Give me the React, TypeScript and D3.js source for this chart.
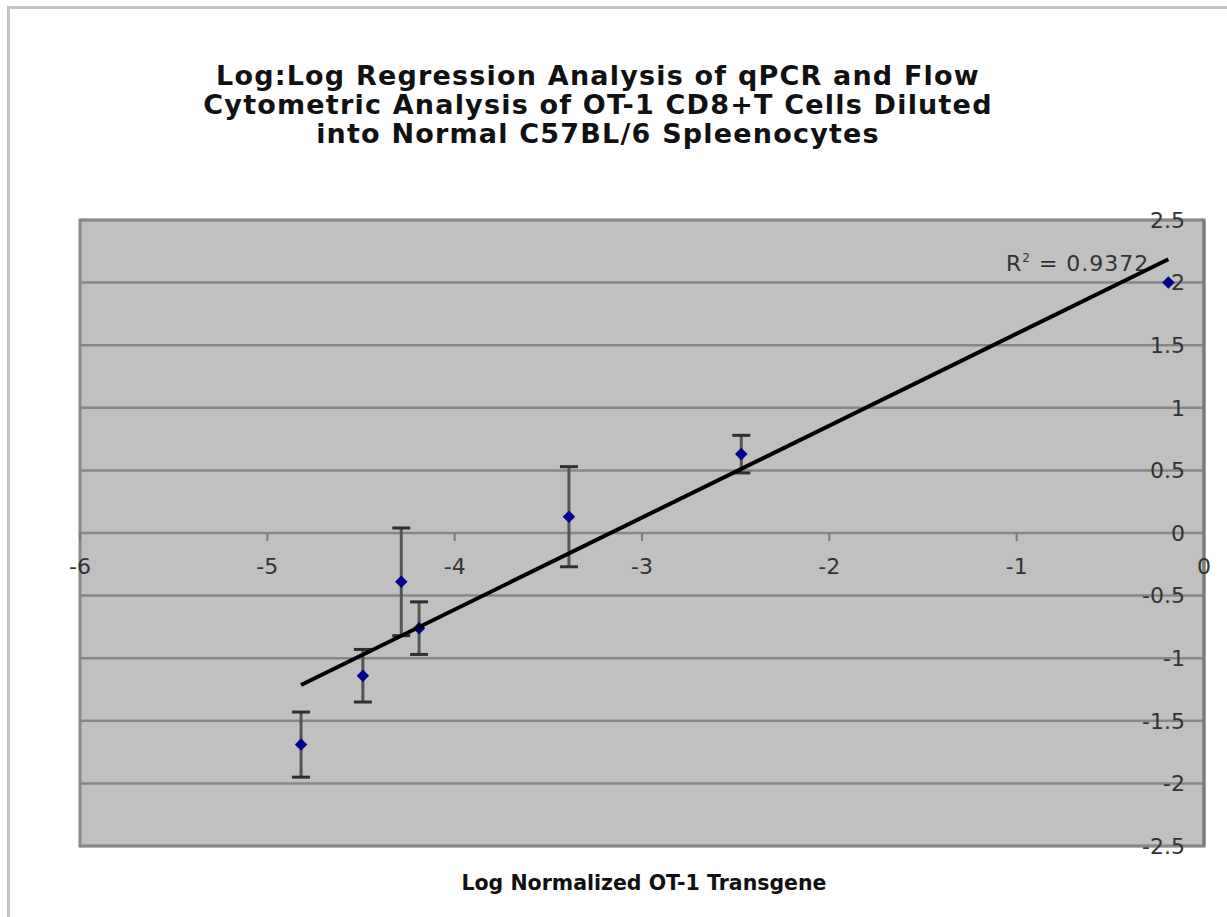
import { useMemo } from "react";
import * as d3 from "d3";

const WIDTH = 1227;
const HEIGHT = 917;
const PLOT = { left: 80, right: 1204, top: 220, bottom: 846 };

const TITLE_LINES = [
  "Log:Log Regression Analysis of qPCR and Flow",
  "Cytometric Analysis of OT-1 CD8+T Cells Diluted",
  "into Normal C57BL/6 Spleenocytes",
];
const X_TITLE = "Log Normalized OT-1 Transgene";
const R2_LABEL = "0.9372";

// log normalized transgene vs log flow %
const xValues = [-4.82, -4.49, -4.285, -4.19, -3.39, -2.47, -0.19];
const yValues = [-1.69, -1.14, -0.39, -0.76, 0.13, 0.63, 2.0];
const yErrors = [0.26, 0.21, 0.43, 0.21, 0.4, 0.15, 0];

const xTicks = [-6, -5, -4, -3, -2, -1, 0];
const yTicks = [-2.5, -2, -1.5, -1, -0.5, 0, 0.5, 1, 1.5, 2, 2.5];

const FONT = "'DejaVu Sans', Verdana, sans-serif";
const TICK_SIZE = 22;

export default function App() {
  const xScale = useMemo(
    () => d3.scaleLinear().domain([-6, 0]).range([PLOT.left, PLOT.right]),
    []
  );
  const yScale = useMemo(
    () => d3.scaleLinear().domain([-2.5, 2.5]).range([PLOT.bottom, PLOT.top]),
    []
  );

  // least squares fit, like the excel trendline
  const fit = useMemo(() => {
    const mx = d3.mean(xValues)!;
    const my = d3.mean(yValues)!;
    const sxy = d3.sum(xValues, (x, i) => (x - mx) * (yValues[i] - my));
    const sxx = d3.sum(xValues, (x) => (x - mx) ** 2);
    const slope = sxy / sxx;
    const intercept = my - slope * mx;
    const [x0, x1] = d3.extent(xValues) as [number, number];
    return [
      [x0, slope * x0 + intercept],
      [x1, slope * x1 + intercept],
    ];
  }, []);

  const line = d3
    .line<number[]>()
    .x((d) => xScale(d[0]))
    .y((d) => yScale(d[1]));

  const diamond = d3.symbol(d3.symbolDiamond2, 100)()!;

  return (
    <svg
      width={WIDTH}
      height={HEIGHT}
      style={{ position: "absolute", left: 0, top: 0, background: "#fff" }}
      fontFamily={FONT}
    >
      <rect x={0} y={0} width={WIDTH} height={HEIGHT} fill="#fff" />
      {/* chart frame */}
      <rect
        x={8.5}
        y={7.5}
        width={WIDTH + 20}
        height={HEIGHT + 20}
        fill="none"
        stroke="#c4c4c4"
        strokeWidth={3}
      />

      <g
        fontWeight="bold"
        fontSize={27}
        letterSpacing={1.2}
        fill="#111"
        textAnchor="middle"
      >
        {TITLE_LINES.map((t, i) => (
          <text key={i} x={598} y={85 + i * 29}>
            {t}
          </text>
        ))}
      </g>

      {/* plot area */}
      <rect
        x={PLOT.left}
        y={PLOT.top}
        width={PLOT.right - PLOT.left}
        height={PLOT.bottom - PLOT.top}
        fill="#c0c0c0"
        stroke="#8a8a8a"
        strokeWidth={3}
      />

      {yTicks.map((v) => (
        <line
          key={"g" + v}
          x1={PLOT.left}
          x2={PLOT.right}
          y1={yScale(v)}
          y2={yScale(v)}
          stroke="#878787"
          strokeWidth={2.5}
        />
      ))}

      {/* y axis sits at x = 0, the right edge */}
      <line
        x1={xScale(0)}
        x2={xScale(0)}
        y1={PLOT.top}
        y2={PLOT.bottom}
        stroke="#7a7a7a"
        strokeWidth={3}
      />

      {/* x axis at y = 0 with ticks */}
      {xTicks.map((v) => (
        <g key={"x" + v}>
          <line
            x1={xScale(v)}
            x2={xScale(v)}
            y1={yScale(0)}
            y2={yScale(0) + 8}
            stroke="#7a7a7a"
            strokeWidth={2}
          />
          <text
            x={xScale(v)}
            y={yScale(0) + 33}
            dy="0.35em"
            textAnchor="middle"
            fontSize={TICK_SIZE}
            fill="#333"
          >
            {String(v)}
          </text>
        </g>
      ))}

      {yTicks.map((v) => (
        <text
          key={"y" + v}
          x={1185}
          y={yScale(v)}
          dy="0.35em"
          textAnchor="end"
          fontSize={TICK_SIZE}
          fill="#333"
        >
          {String(v)}
        </text>
      ))}

      <text
        x={1006}
        y={263}
        dy="0.35em"
        fontSize={TICK_SIZE}
        letterSpacing={1}
        fill="#333"
      >
        R<tspan dy={-9} fontSize={12}>2</tspan>
        <tspan dy={9}> = {R2_LABEL}</tspan>
      </text>

      {/* error bars */}
      {xValues.map((x, i) =>
        yErrors[i] > 0 ? (
          <g key={"e" + i} strokeWidth={3}>
            <line
              x1={xScale(x)}
              x2={xScale(x)}
              y1={yScale(yValues[i] - yErrors[i])}
              y2={yScale(yValues[i] + yErrors[i])}
              stroke="#555"
            />
            <line
              x1={xScale(x) - 9}
              x2={xScale(x) + 9}
              y1={yScale(yValues[i] + yErrors[i])}
              y2={yScale(yValues[i] + yErrors[i])}
              stroke="#2e2e2e"
            />
            <line
              x1={xScale(x) - 9}
              x2={xScale(x) + 9}
              y1={yScale(yValues[i] - yErrors[i])}
              y2={yScale(yValues[i] - yErrors[i])}
              stroke="#2e2e2e"
            />
          </g>
        ) : null
      )}

      {xValues.map((x, i) => (
        <path
          key={"p" + i}
          d={diamond}
          transform={`translate(${xScale(x)},${yScale(yValues[i])})`}
          fill="#00008b"
        />
      ))}

      <path d={line(fit)!} fill="none" stroke="#000" strokeWidth={4} />

      <text
        x={644}
        y={883}
        dy="0.35em"
        textAnchor="middle"
        fontSize={20.5}
        fontWeight="bold"
        fill="#111"
      >
        {X_TITLE}
      </text>
    </svg>
  );
}
